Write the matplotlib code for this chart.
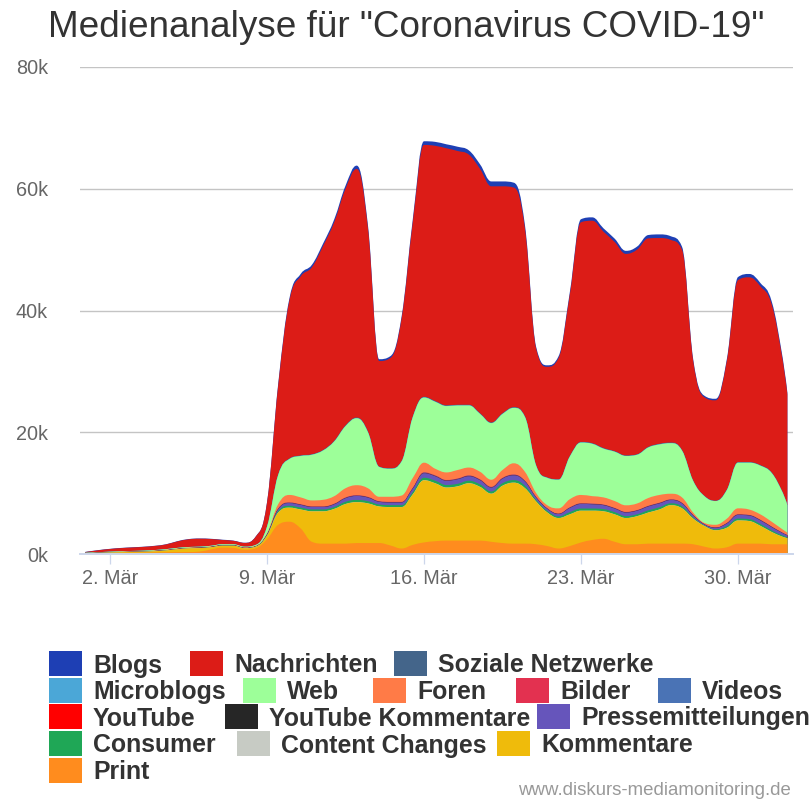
import matplotlib

matplotlib.use("Agg")
import matplotlib.pyplot as plt
import numpy as np
from matplotlib.patches import PathPatch, Rectangle
from matplotlib.path import Path

plt.rcParams["font.family"] = ["Liberation Sans", "DejaVu Sans"]

# --- data (thousands of mentions, half-day steps in March; 32 = 1. Apr) ---
DAYS = [0.9, 1.5, 2.0, 2.5, 3.0, 3.5, 4.0, 4.5, 5.0, 5.5, 6.0, 6.5, 7.0, 7.5, 8.0, 8.5,
        9.0, 9.5, 10.0, 10.5, 11.0, 11.5, 12.0, 12.5, 13.0, 13.5, 14.0, 14.5, 15.0, 15.5, 16.0, 16.5,
        17.0, 17.5, 18.0, 18.5, 19.0, 19.5, 20.0, 20.5, 21.0, 21.5, 22.0, 22.5, 23.0, 23.5, 24.0, 24.5,
        25.0, 25.5, 26.0, 26.5, 27.0, 27.5, 28.0, 28.5, 29.0, 29.5, 30.0, 30.5, 31.0, 31.5, 32.0, 32.2]

# stack edges (top of the whole stack, and cumulative
# tops of Web / Foren / Kommentare)
TOTAL_TOP = [0.35, 0.65, 0.85, 1.0, 1.1, 1.2, 1.35, 1.6, 2.1, 2.45, 2.55, 2.5, 2.35, 2.2, 1.85, 2.9,
             8.5, 28.0, 42.0, 46.0, 47.5, 51.0, 55.0, 60.5, 63.8, 54.0, 32.0, 32.5, 39.0, 55.0, 67.8, 67.7,
             67.3, 66.9, 66.3, 64.0, 61.2, 61.2, 61.0, 54.0, 34.0, 31.0, 32.5, 43.0, 55.0, 55.3, 53.5, 51.8,
             49.8, 50.5, 52.4, 52.5, 52.2, 50.5, 32.0, 26.0, 25.5, 32.0, 45.5, 46.0, 44.5, 41.5, 32.0, 26.5]
WEB_TOP = [0.2, 0.3, 0.38, 0.45, 0.5, 0.55, 0.65, 0.8, 1.0, 1.15, 1.2, 1.35, 1.6, 1.6, 1.2, 1.5,
           4.5, 13.0, 15.6, 16.1, 16.3, 17.0, 18.5, 21.0, 22.3, 20.0, 14.3, 14.0, 15.2, 22.5, 25.7, 25.0,
           24.3, 24.4, 24.4, 23.0, 21.5, 23.0, 24.0, 22.5, 14.5, 12.5, 12.2, 16.0, 18.3, 18.1, 17.3, 16.8,
           16.1, 16.3, 17.5, 18.0, 18.2, 17.0, 12.0, 9.5, 8.7, 10.5, 15.0, 15.0, 14.5, 13.3, 10.0, 8.0]
FOREN_TOP = [0.14, 0.24, 0.32, 0.38, 0.42, 0.47, 0.56, 0.7, 0.9, 1.05, 1.1, 1.25, 1.5, 1.5, 1.1, 1.35,
             3.4, 8.2, 9.7, 9.3, 8.8, 8.9, 9.5, 10.8, 11.3, 10.8, 9.4, 9.4, 9.6, 12.5, 15.0, 14.0,
             13.4, 13.8, 14.2, 13.5, 12.2, 13.8, 14.9, 13.5, 10.0, 8.0, 7.5, 9.0, 9.7, 9.5, 9.3, 8.7,
             8.0, 8.3, 9.2, 9.7, 9.9, 9.3, 6.8, 5.1, 4.8, 5.8, 7.5, 7.3, 6.5, 5.3, 4.0, 3.5]
KOMM_TOP = [0.1, 0.18, 0.25, 0.3, 0.34, 0.38, 0.46, 0.58, 0.78, 0.92, 0.97, 1.1, 1.35, 1.35, 0.95, 1.2,
            3.0, 6.8, 7.6, 7.3, 7.0, 7.0, 7.4, 8.2, 8.5, 8.3, 7.8, 7.7, 7.7, 9.8, 12.1, 11.6,
            10.9, 11.1, 11.6, 11.0, 9.9, 11.2, 11.7, 10.8, 8.6, 6.8, 5.9, 6.5, 7.1, 7.1, 7.0, 6.5,
            5.9, 6.2, 6.8, 7.3, 8.0, 7.5, 5.8, 4.6, 3.9, 4.3, 5.5, 5.4, 4.6, 3.6, 2.8, 2.6]

PRINT = [0.05, 0.1, 0.15, 0.18, 0.2, 0.22, 0.25, 0.28, 0.3, 0.32, 0.4, 0.75, 1.05, 1.0, 0.7, 0.95,
         2.4, 4.8, 5.3, 4.2, 2.0, 1.7, 1.7, 1.7, 1.8, 1.8, 1.8, 1.4, 0.9, 1.5, 1.9, 2.1,
         2.2, 2.2, 2.2, 2.2, 2.0, 1.8, 1.7, 1.7, 1.6, 1.3, 0.9, 1.3, 1.9, 2.3, 2.5, 2.0,
         1.6, 1.6, 1.7, 1.7, 1.7, 1.7, 1.6, 1.2, 0.9, 1.1, 1.7, 1.7, 1.7, 1.6, 1.6, 1.6]
BLOGS = [0.03, 0.03, 0.03, 0.03, 0.03, 0.03, 0.03, 0.03, 0.04, 0.04, 0.04, 0.04, 0.04, 0.03, 0.03, 0.04,
         0.1, 0.3, 0.35, 0.4, 0.4, 0.4, 0.45, 0.5, 0.55, 0.5, 0.3, 0.3, 0.35, 0.5, 0.6, 0.65,
         0.65, 0.7, 0.7, 0.75, 0.8, 0.8, 0.8, 0.6, 0.3, 0.25, 0.3, 0.4, 0.5, 0.55, 0.55, 0.55,
         0.5, 0.5, 0.55, 0.6, 0.6, 0.5, 0.3, 0.25, 0.25, 0.3, 0.5, 0.55, 0.55, 0.5, 0.4, 0.3]
CONSUMER = [0.01, 0.01, 0.01, 0.01, 0.01, 0.01, 0.02, 0.02, 0.02, 0.03, 0.03, 0.03, 0.03, 0.03, 0.02, 0.03,
            0.08, 0.25, 0.3, 0.3, 0.3, 0.3, 0.3, 0.35, 0.35, 0.35, 0.3, 0.3, 0.3, 0.35, 0.4, 0.4,
            0.4, 0.4, 0.4, 0.4, 0.35, 0.4, 0.4, 0.4, 0.25, 0.25, 0.25, 0.35, 0.35, 0.35, 0.35, 0.35,
            0.3, 0.3, 0.35, 0.35, 0.3, 0.3, 0.2, 0.1, 0.15, 0.25, 0.3, 0.3, 0.3, 0.25, 0.2, 0.15]
PRESSE = [0.01, 0.01, 0.01, 0.01, 0.01, 0.01, 0.02, 0.02, 0.03, 0.03, 0.03, 0.03, 0.03, 0.03, 0.03, 0.03,
          0.1, 0.3, 0.45, 0.45, 0.4, 0.4, 0.45, 0.6, 0.65, 0.6, 0.45, 0.45, 0.45, 0.6, 0.75, 0.75,
          0.7, 0.75, 0.75, 0.7, 0.65, 0.75, 0.8, 0.7, 0.4, 0.35, 0.4, 0.7, 0.75, 0.7, 0.65, 0.6,
          0.6, 0.6, 0.65, 0.65, 0.55, 0.5, 0.3, 0.15, 0.25, 0.45, 0.6, 0.6, 0.6, 0.55, 0.4, 0.3]
CONTENT_CHANGES = [0, 0, 0, 0, 0, 0, 0, 0, 0, 0, 0, 0, 0, 0, 0, 0,
                   0.01, 0.02, 0.02, 0.02, 0.02, 0.02, 0.02, 0.02, 0.03, 0.02, 0.02, 0.02, 0.02, 0.02, 0.03, 0.03,
                   0.03, 0.03, 0.03, 0.03, 0.02, 0.03, 0.03, 0.02, 0.02, 0.02, 0.02, 0.02, 0.02, 0.02, 0.02, 0.02,
                   0.02, 0.02, 0.02, 0.02, 0.02, 0.02, 0.02, 0.01, 0.01, 0.02, 0.02, 0.02, 0.02, 0.02, 0.01, 0.01]
YT_KOMMENTARE = [0, 0, 0, 0, 0, 0, 0, 0, 0, 0, 0, 0, 0, 0, 0, 0,
                 0, 0.01, 0.01, 0.01, 0.01, 0.01, 0.01, 0.01, 0.01, 0.01, 0.01, 0.01, 0.01, 0.01, 0.01, 0.01,
                 0.01, 0.01, 0.01, 0.01, 0.01, 0.01, 0.01, 0.01, 0.01, 0.01, 0.01, 0.01, 0.01, 0.01, 0.01, 0.01,
                 0.01, 0.01, 0.01, 0.01, 0.01, 0.01, 0.01, 0, 0, 0.01, 0.01, 0.01, 0.01, 0.01, 0, 0]
YOUTUBE = [0, 0, 0, 0, 0, 0, 0, 0, 0, 0, 0, 0, 0, 0, 0, 0,
           0.01, 0.02, 0.02, 0.02, 0.02, 0.02, 0.02, 0.02, 0.03, 0.02, 0.02, 0.02, 0.02, 0.02, 0.03, 0.03,
           0.03, 0.03, 0.03, 0.03, 0.02, 0.03, 0.03, 0.02, 0.02, 0.01, 0.01, 0.02, 0.02, 0.02, 0.02, 0.02,
           0.02, 0.02, 0.02, 0.02, 0.02, 0.02, 0.01, 0.01, 0.01, 0.02, 0.02, 0.02, 0.02, 0.02, 0.01, 0.01]
VIDEOS = [0, 0, 0, 0, 0, 0, 0, 0, 0, 0, 0, 0, 0, 0, 0, 0,
          0.02, 0.04, 0.04, 0.04, 0.04, 0.04, 0.04, 0.05, 0.05, 0.05, 0.04, 0.04, 0.04, 0.05, 0.06, 0.06,
          0.05, 0.05, 0.05, 0.05, 0.05, 0.05, 0.05, 0.05, 0.03, 0.03, 0.03, 0.04, 0.05, 0.05, 0.05, 0.04,
          0.04, 0.04, 0.04, 0.05, 0.04, 0.04, 0.03, 0.02, 0.02, 0.03, 0.04, 0.04, 0.04, 0.03, 0.02, 0.02]
BILDER = [0, 0, 0, 0, 0, 0, 0, 0, 0, 0, 0, 0, 0, 0, 0, 0,
          0.01, 0.03, 0.03, 0.03, 0.03, 0.03, 0.03, 0.04, 0.04, 0.04, 0.03, 0.03, 0.03, 0.04, 0.04, 0.04,
          0.04, 0.04, 0.04, 0.04, 0.04, 0.04, 0.04, 0.04, 0.03, 0.02, 0.02, 0.03, 0.03, 0.03, 0.03, 0.03,
          0.03, 0.03, 0.03, 0.03, 0.03, 0.03, 0.02, 0.02, 0.02, 0.02, 0.03, 0.03, 0.03, 0.03, 0.02, 0.02]
MICROBLOGS = [0, 0, 0, 0, 0, 0, 0, 0, 0, 0, 0, 0, 0, 0, 0, 0,
              0.01, 0.03, 0.03, 0.03, 0.03, 0.03, 0.03, 0.04, 0.04, 0.04, 0.03, 0.03, 0.03, 0.04, 0.04, 0.04,
              0.04, 0.04, 0.04, 0.04, 0.04, 0.04, 0.04, 0.04, 0.03, 0.03, 0.03, 0.03, 0.04, 0.04, 0.04, 0.03,
              0.03, 0.03, 0.03, 0.04, 0.04, 0.03, 0.03, 0.02, 0.02, 0.03, 0.03, 0.03, 0.03, 0.03, 0.02, 0.02]
SOZIALE = [0.01, 0.01, 0.01, 0.01, 0.01, 0.01, 0.01, 0.01, 0.01, 0.01, 0.01, 0.01, 0.01, 0.01, 0.01, 0.01,
           0.02, 0.05, 0.06, 0.06, 0.06, 0.06, 0.07, 0.08, 0.08, 0.07, 0.05, 0.05, 0.06, 0.07, 0.09, 0.09,
           0.08, 0.08, 0.08, 0.08, 0.07, 0.08, 0.08, 0.07, 0.05, 0.04, 0.05, 0.06, 0.07, 0.07, 0.07, 0.06,
           0.06, 0.06, 0.07, 0.07, 0.07, 0.06, 0.04, 0.04, 0.04, 0.05, 0.06, 0.06, 0.06, 0.05, 0.04, 0.04]

TICK_DAYS = [2, 9, 16, 23, 30]
TICK_LABELS = ["2. Mär", "9. Mär", "16. Mär", "23. Mär", "30. Mär"]
Y_TICKS = [0, 20, 40, 60, 80]

COLORS = {
    "Blogs": "#1e3fb4",
    "Nachrichten": "#dc1c17",
    "Soziale Netzwerke": "#44658a",
    "Microblogs": "#4ba7d7",
    "Web": "#9dff99",
    "Foren": "#ff7b47",
    "Bilder": "#e33150",
    "Videos": "#4a73b5",
    "YouTube": "#ff0000",
    "YouTube Kommentare": "#262626",
    "Pressemitteilungen": "#6655bb",
    "Consumer": "#1fa756",
    "Content Changes": "#c7cbc4",
    "Kommentare": "#efbb0b",
    "Print": "#ff8c1e",
}

# derive the per-series layers from the read stack edges
print_v = np.array(PRINT)
komm = np.array(KOMM_TOP) - print_v
small_mid = (np.array(CONTENT_CHANGES) + np.array(CONSUMER) + np.array(PRESSE)
             + np.array(YT_KOMMENTARE) + np.array(YOUTUBE) + np.array(VIDEOS) + np.array(BILDER))
foren = np.clip(np.array(FOREN_TOP) - np.array(KOMM_TOP) - small_mid, 0, None)
web = np.array(WEB_TOP) - np.array(FOREN_TOP)
nachrichten = (np.array(TOTAL_TOP) - np.array(BLOGS) - np.array(SOZIALE)
               - np.array(MICROBLOGS) - np.array(WEB_TOP))

# bottom -> top
STACK = [
    ("Print", print_v), ("Kommentare", komm), ("Content Changes", CONTENT_CHANGES),
    ("Consumer", CONSUMER), ("Pressemitteilungen", PRESSE), ("YouTube Kommentare", YT_KOMMENTARE),
    ("YouTube", YOUTUBE), ("Videos", VIDEOS), ("Bilder", BILDER), ("Foren", foren), ("Web", web),
    ("Microblogs", MICROBLOGS), ("Soziale Netzwerke", SOZIALE), ("Nachrichten", nachrichten),
    ("Blogs", BLOGS),
]


def spline_verts(xs, ys, smoothing=1.5):
    """Bezier vertices for a Highcharts-like areaspline edge."""
    n = len(xs)
    left = list(zip(xs, ys))
    right = list(zip(xs, ys))
    d = smoothing + 1
    for i in range(1, n - 1):
        px, py = xs[i], ys[i]
        lx, ly = xs[i - 1], ys[i - 1]
        nx, ny = xs[i + 1], ys[i + 1]
        lcx, lcy = (smoothing * px + lx) / d, (smoothing * py + ly) / d
        rcx, rcy = (smoothing * px + nx) / d, (smoothing * py + ny) / d
        if rcx != lcx:
            corr = (rcy - lcy) * (rcx - px) / (rcx - lcx) + py - rcy
            lcy += corr
            rcy += corr
        if lcy > ly and lcy > py:
            lcy = max(ly, py)
            rcy = 2 * py - lcy
        elif lcy < ly and lcy < py:
            lcy = min(ly, py)
            rcy = 2 * py - lcy
        if rcy > ny and rcy > py:
            rcy = max(ny, py)
            lcy = 2 * py - rcy
        elif rcy < ny and rcy < py:
            rcy = min(ny, py)
            lcy = 2 * py - rcy
        left[i] = (lcx, lcy)
        right[i] = (rcx, rcy)
    verts = [(xs[0], ys[0])]
    for i in range(1, n):
        verts += [right[i - 1], left[i], (xs[i], ys[i])]
    return verts


W, H = 812, 800
fig = plt.figure(figsize=(W / 100, H / 100), dpi=100)
ax = fig.add_axes([80 / W, 1 - 554 / H, (793 - 80) / W, (554 - 67) / H])

cum = np.cumsum(np.array([np.asarray(v, dtype=float) for _, v in STACK]), axis=0)
# paint from the top of the stack downwards, each area from zero up
for k in range(len(STACK) - 1, -1, -1):
    name = STACK[k][0]
    top = spline_verts(DAYS, list(cum[k]))
    verts = top + [(DAYS[-1], 0), (DAYS[0], 0), top[0]]
    codes = ([Path.MOVETO] + [Path.CURVE4] * (len(top) - 1)
             + [Path.LINETO, Path.LINETO, Path.CLOSEPOLY])
    ax.add_patch(PathPatch(Path(verts, codes), facecolor=COLORS[name],
                           edgecolor="none", lw=0, zorder=1))

ax.set_xlim(0.6625, 32.45)
ax.set_ylim(0, 80)
ax.set_yticks(Y_TICKS, [f"{v}k" for v in Y_TICKS])
ax.set_xticks(TICK_DAYS, TICK_LABELS)
ax.set_axisbelow(True)
ax.yaxis.grid(True, color="#c4c4c4", lw=1.0)
for side in ("top", "right", "left"):
    ax.spines[side].set_visible(False)
ax.spines["bottom"].set_color("#ccd6eb")
ax.spines["bottom"].set_linewidth(1.4)
ax.tick_params(axis="y", length=0, pad=23, labelsize=14.3, labelcolor="#666666")
ax.tick_params(axis="x", length=7.2, width=0.9, color="#ccd6eb", pad=3.5,
               labelsize=14.3, labelcolor="#666666")

fig.text(0.5, 1 - 37 / H, 'Medienanalyse für "Coronavirus COVID-19"',
         ha="center", va="baseline", fontsize=26.6, color="#333333")

# legend (Highcharts flow layout, rows as in the original)
LEGEND_ROWS = [
    ["Blogs", "Nachrichten", "Soziale Netzwerke"],
    ["Microblogs", "Web", "Foren", "Bilder", "Videos"],
    ["YouTube", "YouTube Kommentare", "Pressemitteilungen"],
    ["Consumer", "Content Changes", "Kommentare"],
    ["Print"],
]
LEGEND_BOX_X = [
    [49, 190, 394],
    [49, 243, 373, 516, 658],
    [49, 225, 537],
    [49, 237, 497],
    [49],
]
ROW_Y = [663.5, 690, 716.5, 743.5, 770]
for names, xs, yc in zip(LEGEND_ROWS, LEGEND_BOX_X, ROW_Y):
    for name, bx in zip(names, xs):
        fig.add_artist(Rectangle((bx / W, 1 - (yc + 12.5) / H), 33 / W, 25 / H,
                                 transform=fig.transFigure, facecolor=COLORS[name],
                                 edgecolor="none"))
        fig.text((bx + 44) / W, 1 - (yc + 9) / H, name, ha="left", va="baseline",
                 fontsize=17.9, fontweight="bold", color="#333333")

fig.text(791 / W, 1 - 795 / H, "www.diskurs-mediamonitoring.de", ha="right",
         va="baseline", fontsize=13.4, color="#999999")

fig.savefig("out.png", dpi=100)
